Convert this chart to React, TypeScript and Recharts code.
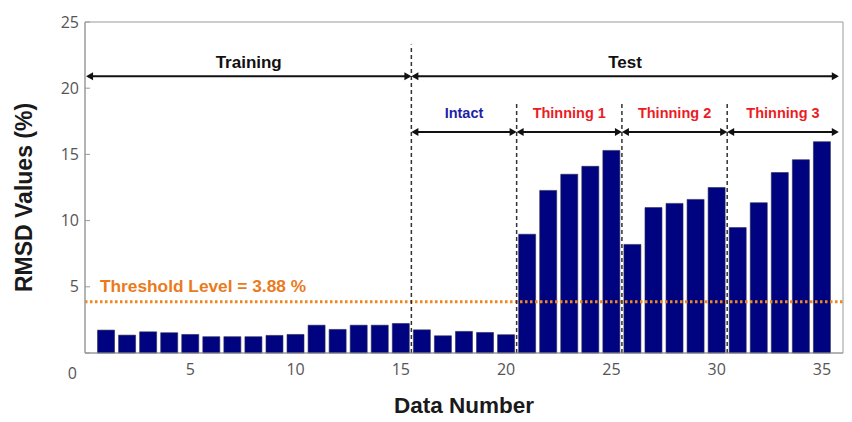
import { BarChart, Bar, XAxis, YAxis, ReferenceLine, ReferenceArea, Label } from "recharts";

const dataNumbers = [
  1, 2, 3, 4, 5, 6, 7, 8, 9, 10, 11, 12, 13, 14, 15, 16, 17, 18,
  19, 20, 21, 22, 23, 24, 25, 26, 27, 28, 29, 30, 31, 32, 33, 34, 35,
];
const rmsdValues = [
  1.73, 1.35, 1.6, 1.53, 1.4, 1.23, 1.23, 1.23, 1.33, 1.4, 2.1, 1.78, 2.1, 2.1, 2.23,
  1.75, 1.3, 1.63, 1.55, 1.38,
  8.97, 12.28, 13.5, 14.1, 15.3,
  8.2, 10.98, 11.3, 11.6, 12.5,
  9.47, 11.35, 13.63, 14.6, 15.96,
];
const threshold = 3.88;
const xTicks = [5, 10, 15, 20, 25, 30, 35];
const yTicks = [0, 5, 10, 15, 20, 25];

// section dividers and the arrows above the bars
const dividerX = [15.5, 20.5, 25.5, 30.5];
const dividerTop = [23.3, 19, 19, 19];
const phaseNames = ["Training", "Test"];
const phaseSpans = [[0.05, 15.5], [15.5, 35.8]];
const phaseLevel = 20.9;
const caseNames = ["Intact", "Thinning 1", "Thinning 2", "Thinning 3"];
const caseSpans = [[15.5, 20.5], [20.5, 25.5], [25.5, 30.5], [30.5, 35.8]];
const caseLevel = 16.7;
const caseColors = ["#1f1fa6", "#ec1c24", "#ec1c24", "#ec1c24"];

const data = dataNumbers.map((n, i) => ({ n, rmsd: rmsdValues[i] }));

const boldFont = "'Liberation Sans', Arial, sans-serif";
const tickFont = "'Open Sans', sans-serif";

function ArrowLine(props: any) {
  const { x1, y1, x2, text, color, fontSize, gap } = props;
  const h = 7;
  const w = 4;
  return (
    <g>
      <line x1={x1 + 2} y1={y1} x2={x2 - 2} y2={y1} stroke="#111" strokeWidth={2} />
      <polygon points={`${x1},${y1} ${x1 + h},${y1 - w} ${x1 + h},${y1 + w}`} fill="#111" />
      <polygon points={`${x2},${y1} ${x2 - h},${y1 - w} ${x2 - h},${y1 + w}`} fill="#111" />
      <text
        x={(x1 + x2) / 2}
        y={y1 - gap}
        textAnchor="middle"
        fill={color}
        fontSize={fontSize}
        fontWeight="bold"
        fontFamily={boldFont}
      >
        {text}
      </text>
    </g>
  );
}

function ThresholdLine(props: any) {
  const { x1, y1, x2 } = props;
  return (
    <g>
      <line x1={x1} y1={y1} x2={x2} y2={y1} stroke="#f0861e" strokeWidth={3} strokeDasharray="2.5 2.5" />
      <text x={x1 + 15} y={y1 - 10} fill="#ea7a1c" fontSize={17.3} fontWeight="bold" fontFamily={boldFont}>
        Threshold Level = {threshold} %
      </text>
    </g>
  );
}

function YTick(props: any) {
  const { x, y, payload } = props;
  const low = payload.value === 0;
  return (
    <text
      x={low ? x - 2 : x}
      y={low ? y + 20 : y}
      dy="0.35em"
      textAnchor="end"
      fill="#555"
      fontSize={16}
      fontFamily={tickFont}
    >
      {payload.value}
    </text>
  );
}

function YTitle(props: any) {
  const { viewBox } = props;
  const cx = viewBox.x - 1;
  const cy = viewBox.y + viewBox.height / 2 + 10;
  return (
    <text
      x={cx}
      y={cy}
      transform={`rotate(-90 ${cx} ${cy})`}
      textAnchor="middle"
      dominantBaseline="central"
      fill="#1a1a1a"
      fontSize={23}
      fontWeight="bold"
      fontFamily={boldFont}
    >
      RMSD Values (%)
    </text>
  );
}

export default function App() {
  return (
    <div style={{ position: "absolute", left: 0, top: 0, background: "#fff" }}>
      <BarChart width={852} height={422} data={data} margin={{ top: 22, right: 9, bottom: 39, left: 25 }}>
        <XAxis
          dataKey="n"
          type="number"
          domain={[0, 36]}
          ticks={xTicks}
          allowDataOverflow
          height={30}
          tickLine={false}
          tickMargin={5}
          axisLine={{ stroke: "#9a9a9a" }}
          tick={{ fill: "#555", fontSize: 16, fontFamily: tickFont }}
        >
          <Label
            value="Data Number"
            position="bottom"
            offset={14}
            fill="#1a1a1a"
            fontSize={22.5}
            fontWeight="bold"
            fontFamily={boldFont}
          />
        </XAxis>
        <YAxis
          type="number"
          domain={[0, 25]}
          ticks={yTicks}
          width={60}
          tickSize={-5}
          tickMargin={11}
          tickLine={{ stroke: "#9a9a9a" }}
          axisLine={{ stroke: "#9a9a9a" }}
          tick={<YTick />}
        >
          <Label content={<YTitle />} />
        </YAxis>
        <ReferenceArea x1={0} x2={36} y1={0} y2={25} fill="none" stroke="#9a9a9a" strokeWidth={1} />
        <Bar
          dataKey="rmsd"
          barSize={17}
          fill="#00037f"
          stroke="#2a2a55"
          strokeWidth={0.6}
          isAnimationActive={false}
        />
        <ReferenceLine y={threshold} shape={<ThresholdLine />} />
        {dividerX.map((x, i) => (
          <ReferenceLine
            key={`d${i}`}
            segment={[{ x, y: 0 }, { x, y: dividerTop[i] }]}
            stroke="#333"
            strokeWidth={1.5}
            strokeDasharray="4 3"
          />
        ))}
        {phaseNames.map((name, i) => (
          <ReferenceLine
            key={`p${i}`}
            segment={[{ x: phaseSpans[i][0], y: phaseLevel }, { x: phaseSpans[i][1], y: phaseLevel }]}
            shape={(p: any) => <ArrowLine {...p} text={name} color="#111" fontSize={17} gap={8} />}
          />
        ))}
        {caseNames.map((name, i) => (
          <ReferenceLine
            key={`c${i}`}
            segment={[{ x: caseSpans[i][0], y: caseLevel }, { x: caseSpans[i][1], y: caseLevel }]}
            shape={(p: any) => <ArrowLine {...p} text={name} color={caseColors[i]} fontSize={14.5} gap={14} />}
          />
        ))}
      </BarChart>
    </div>
  );
}
